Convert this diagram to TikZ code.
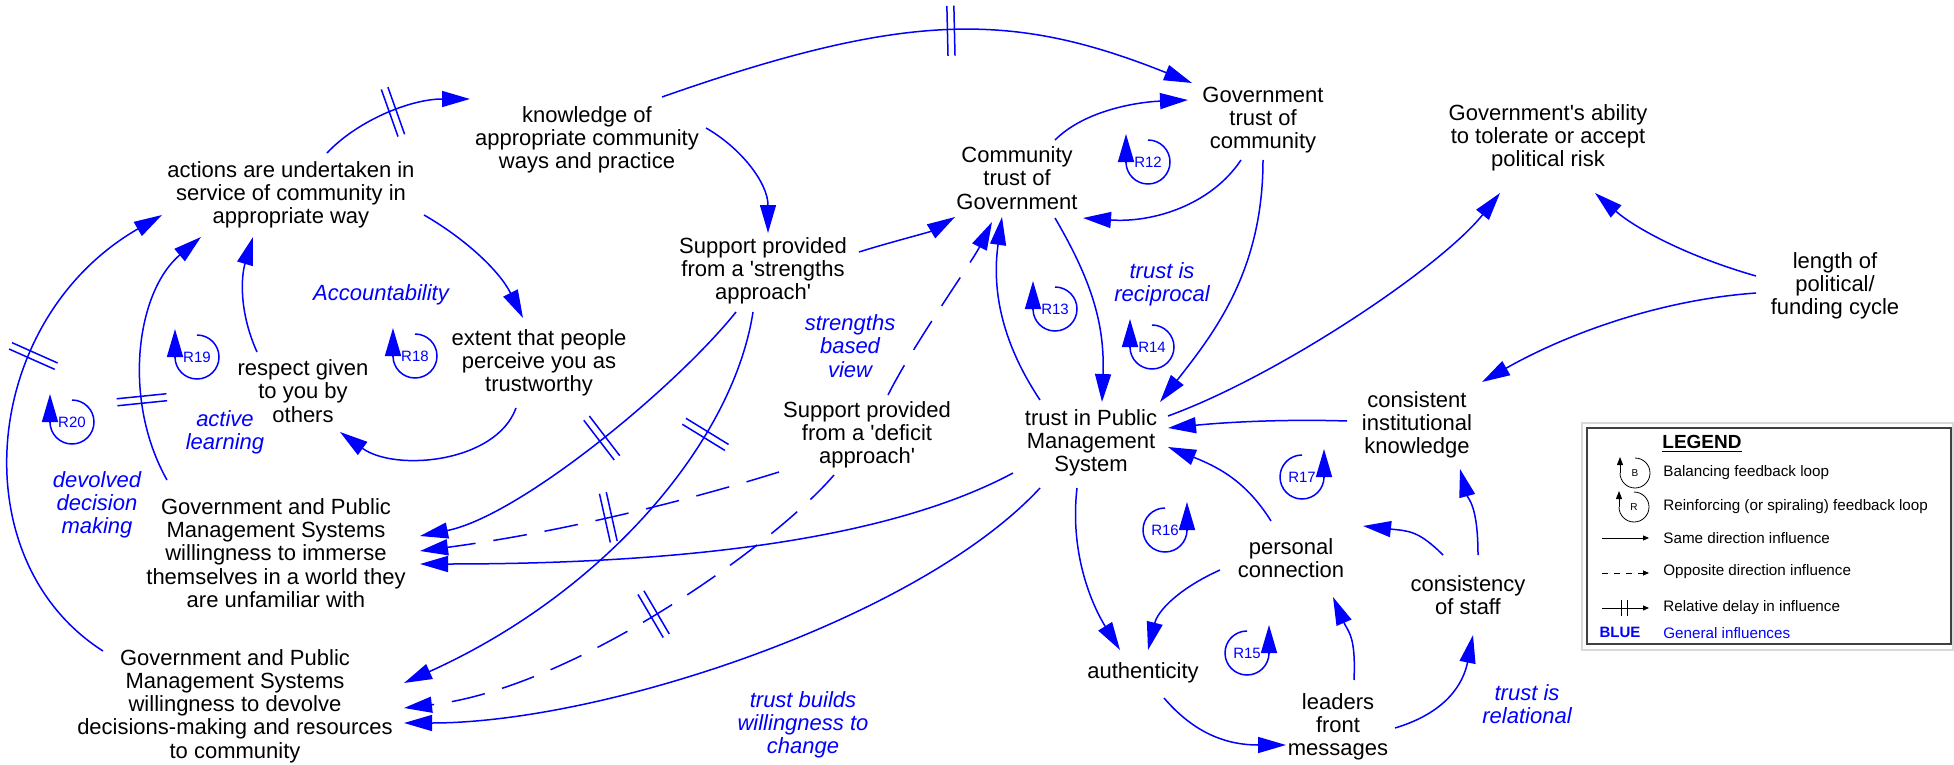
\documentclass[tikz,border=0pt]{standalone}
\usepackage{fontspec}
\setmainfont{Liberation Sans}[Ligatures=TeXOff]
\usetikzlibrary{arrows.meta,decorations.markings}
\begin{document}
\begin{tikzpicture}[x=0.5pt,y=-0.5pt,
  arr/.style={draw=blue,line width=0.75pt,-{Triangle[length=14pt,width=8pt]}},
  dsh/.style={dash pattern=on 17pt off 9pt},
  dly/.style={postaction={decorate,decoration={markings,mark=at position #1 with {\draw[solid,-,line width=0.75pt,blue] (-3.5,-25) -- (-3.5,25) (3.5,-25) -- (3.5,25);}}}},
  var/.style={align=center,inner sep=0pt,font=\fontsize{11}{11.65}\selectfont},
  note/.style={align=center,inner sep=0pt,text=blue,font=\fontsize{11}{11.65}\selectfont\itshape},
  rlab/.style={inner sep=0pt,text=blue,font=\fontsize{7.5}{8}\selectfont},
  lpc/.style={draw=blue,line width=0.75pt},
  lpa/.style={draw=blue,line width=0.75pt,-{Triangle[length=14pt,width=8pt]}},
  leg/.style={anchor=west,inner sep=0pt,font=\fontsize{7.6}{9}\selectfont},
  legl/.style={draw=black,line width=0.5pt},
]
\useasboundingbox (0,0) rectangle (1954,765);

% variables
\node[var] (actions) at (291,195) {actions are undertaken in\\service of community in\\appropriate way};
\node[var] (knowledge) at (587,140) {knowledge of\\appropriate community\\ways and practice};
\node[var] (strengths) at (763,271) {Support provided\\from a 'strengths\\approach'};
\node[var] (ctog) at (1017,178) {Community\\trust of\\Government};
\node[var] (gtoc) at (1263,120) {Government\\trust of\\community};
\node[var] (ability) at (1548,138) {Government's ability\\to tolerate or accept\\political risk};
\node[var] (length) at (1835,286) {length of\\political/\\funding cycle};
\node[var] (cik) at (1417,425) {consistent\\institutional\\knowledge};
\node[var] (pc) at (1291,558) {personal\\connection};
\node[var] (cos) at (1468,595) {consistency\\of staff};
\node[var] (lfm) at (1338,727) {leaders\\front\\messages};
\node[var] (auth) at (1143,673) {authenticity};
\node[var] (tpms) at (1091,443) {trust in Public\\Management\\System};
\node[var] (deficit) at (867,435) {Support provided\\from a 'deficit\\approach'};
\node[var] (extent) at (539,363) {extent that people\\perceive you as\\trustworthy};
\node[var] (respect) at (303,391) {respect given\\to you by\\others};
\node[var] (immerse) at (276,553) {Government and Public\\Management Systems\\willingness to immerse\\themselves in a world they\\are unfamiliar with};
\node[var] (devolve) at (235,706) {Government and Public\\Management Systems\\willingness to devolve\\decisions-making and resources\\to community};

% italic notes
\node[note] (accnt) at (381,295) {Accountability};
\node[note] (actl) at (225,432) {active\\learning};
\node[note] (devdm) at (97,505) {devolved\\decision\\making};
\node[note] (sbv) at (850,346) {strengths\\based\\view};
\node[note] (tir) at (1162,284) {trust is\\reciprocal};
\node[note] (tbw) at (803,725) {trust builds\\willingness to\\change};
\node[note] (trel) at (1527,704) {trust is\\relational};

% loops
\newcommand{\loopL}[2]{\node[rlab] (#1) at (#2) {#1};
  \draw[lpc] (#1.center) ++(0,-22) arc[start angle=-90,end angle=180,radius=22];
  \draw[lpa] ([shift={(-22,0)}]#1.center) -- ([shift={(-22,-28)}]#1.center);}
\newcommand{\loopR}[2]{\node[rlab] (#1) at (#2) {#1};
  \draw[lpc] (#1.center) ++(0,-22) arc[start angle=-90,end angle=-360,radius=22];
  \draw[lpa] ([shift={(22,0)}]#1.center) -- ([shift={(22,-28)}]#1.center);}
\loopL{R12}{1148,162}
\loopL{R13}{1055,309}
\loopL{R14}{1152,347}
\loopL{R18}{415,356}
\loopL{R19}{197,357}
\loopL{R20}{72,422}
\loopR{R15}{1247,653}
\loopR{R16}{1165,530}
\loopR{R17}{1302,477}

% connectors
\draw[arr,dly=0.5] ([shift={(36,-42)}]actions.center) .. controls +(30,-32) and +(-60,0) .. ([shift={(-117,-41)}]knowledge.center);
\draw[arr,dly=0.545] ([shift={(75,-43)}]knowledge.center) .. controls +(245,-86) and +(-180,-72) .. ([shift={(-71,-37)}]gtoc.center);
\draw[arr] ([shift={(119,-12)}]knowledge.center) .. controls +(35,20) and +(0,-50) .. ([shift={(5,-38)}]strengths.center);
\draw[arr] ([shift={(133,20)}]actions.center) .. controls +(40,23) and +(-24,-48) .. ([shift={(-16,-45)}]extent.center);
\draw[arr] ([shift={(-23,45)}]extent.center) .. controls +(-20,55) and +(55,40) .. ([shift={(37,41)}]respect.center);
\draw[arr] ([shift={(-46,-39)}]respect.center) .. controls +(-18,-40) and +(-12,40) .. ([shift={(-38,42)}]actions.center);
\draw[arr,dly=0.32] ([shift={(-109,-73)}]immerse.center) .. controls +(-45,-80) and +(-65,55) .. ([shift={(-90,42)}]actions.center);
\draw[arr,dly=0.63] ([shift={(-132,-55)}]devolve.center) .. controls +(-143,-91) and +(-182,105) .. ([shift={(-129,20)}]actions.center);
\draw[arr,dly=0.47] ([shift={(-27,41)}]strengths.center) .. controls +(-60,75) and +(100,-20) .. ([shift={(144,-17)}]immerse.center);
\draw[arr,dly=0.25] ([shift={(-10,41)}]strengths.center) .. controls +(-20,130) and +(200,-90) .. ([shift={(169,-23)}]devolve.center);
\draw[arr] ([shift={(96,-19)}]strengths.center) .. controls +(25,-8) and +(-25,15) .. ([shift={(-62,39)}]ctog.center);
\draw[arr,dsh] ([shift={(21,-40)}]deficit.center) .. controls +(25,-50) and +(-20,40) .. ([shift={(-25,44)}]ctog.center);
\draw[arr,dsh,dly=0.46] ([shift={(-33,40)}]deficit.center) .. controls +(-60,70) and +(170,-20) .. ([shift={(169,2)}]devolve.center);
\draw[arr,dsh,dly=0.48] ([shift={(-88,37)}]deficit.center) .. controls +(-80,25) and +(150,-20) .. ([shift={(144,-2)}]immerse.center);
\draw[arr] ([shift={(-78,30)}]tpms.center) .. controls +(-140,75) and +(220,0) .. ([shift={(144,11)}]immerse.center);
\draw[arr] ([shift={(-51,45)}]tpms.center) .. controls +(-120,130) and +(200,0) .. ([shift={(169,17)}]devolve.center);
\draw[arr] ([shift={(-51,-43)}]tpms.center) .. controls +(-40,-60) and +(-10,70) .. ([shift={(-15,39)}]ctog.center);
\draw[arr] ([shift={(38,40)}]ctog.center) .. controls +(35,60) and +(3,-80) .. ([shift={(11,-41)}]tpms.center);
\draw[arr] ([shift={(0,40)}]gtoc.center) .. controls +(0,110) and +(55,-70) .. ([shift={(69,-41)}]tpms.center);
\draw[arr] ([shift={(-22,40)}]gtoc.center) .. controls +(-30,45) and +(70,5) .. ([shift={(66,40)}]ctog.center);
\draw[arr] ([shift={(38,-38)}]ctog.center) .. controls +(30,-30) and +(-50,2) .. ([shift={(-75,-20)}]gtoc.center);
\draw[arr] ([shift={(77,-27)}]tpms.center) .. controls +(110,-40) and +(-60,75) .. ([shift={(-48,55)}]ability.center);
\draw[arr] ([shift={(-79,-10)}]length.center) .. controls +(-70,-20) and +(40,35) .. ([shift={(47,55)}]ability.center);
\draw[arr] ([shift={(-79,7)}]length.center) .. controls +(-110,8) and +(70,-40) .. ([shift={(65,-43)}]cik.center);
\draw[arr] ([shift={(-70,-4)}]cik.center) .. controls +(-60,-2) and +(60,-6) .. ([shift={(77,-15)}]tpms.center);
\draw[arr] ([shift={(-20,-37)}]pc.center) .. controls +(-25,-40) and +(50,20) .. ([shift={(77,4)}]tpms.center);
\draw[arr] ([shift={(-14,45)}]tpms.center) .. controls +(-8,70) and +(-25,-40) .. ([shift={(-23,-23)}]auth.center);
\draw[arr] ([shift={(-71,12)}]pc.center) .. controls +(-40,18) and +(10,-40) .. ([shift={(5,-23)}]auth.center);
\draw[arr] ([shift={(21,25)}]auth.center) .. controls +(30,35) and +(-60,0) .. ([shift={(-52,18)}]lfm.center);
\draw[arr] ([shift={(16,-47)}]lfm.center) .. controls +(2,-45) and +(15,35) .. ([shift={(42,39)}]pc.center);
\draw[arr] ([shift={(57,1)}]lfm.center) .. controls +(50,-15) and +(-10,50) .. ([shift={(5,40)}]cos.center);
\draw[arr] ([shift={(-25,-40)}]cos.center) .. controls +(-25,-25) and +(45,5) .. ([shift={(72,-32)}]pc.center);
\draw[arr] ([shift={(10,-40)}]cos.center) .. controls +(0,-50) and +(8,30) .. ([shift={(43,44)}]cik.center);

% legend
\draw[draw=black!15,line width=0.6pt] (1582,423) rectangle (1953,650);
\draw[draw=black!75,line width=0.6pt] (1587,428) rectangle (1951,644);
\node[inner sep=0pt,font=\fontsize{9.5}{10}\selectfont\bfseries] (legt) at (1702,444) {\underline{LEGEND}};
\node[inner sep=0pt,font=\fontsize{5}{6}\selectfont] (legB) at (1635,473) {B};
\draw[legl,line width=0.4pt] (legB.center) ++(0,-15) arc[start angle=-90,end angle=180,radius=15];
\draw[legl,line width=0.4pt,-{Triangle[length=4pt,width=3pt]}] ([shift={(-15,0)}]legB.center) -- ([shift={(-15,-16)}]legB.center);
\node[inner sep=0pt,font=\fontsize{5}{6}\selectfont] (legR) at (1634,507) {R};
\draw[legl,line width=0.4pt] (legR.center) ++(0,-15) arc[start angle=-90,end angle=180,radius=15];
\draw[legl,line width=0.4pt,-{Triangle[length=4pt,width=3pt]}] ([shift={(-15,0)}]legR.center) -- ([shift={(-15,-16)}]legR.center);
\node[leg] (lt1) at (1663,473) {Balancing feedback loop};
\node[leg] (lt2) at (1663,507) {Reinforcing (or spiraling) feedback loop};
\node[leg] (lt3) at (1663,538) {Same direction influence};
\node[leg] (lt4) at (1663,572) {Opposite direction influence};
\node[leg] (lt5) at (1663,608) {Relative delay in influence};
\node[leg,text=blue] (lt6) at (1663,633) {General influences};
\node[inner sep=0pt,text=blue,font=\fontsize{7.5}{9}\selectfont\bfseries] (lblue) at (1620,632) {BLUE};
\coordinate (s1a) at (1602,538); \coordinate (s1b) at (1649,538);
\coordinate (s2a) at (1602,573); \coordinate (s2b) at (1649,573);
\coordinate (s3a) at (1602,608); \coordinate (s3b) at (1649,608);
\draw[legl,-{Triangle[length=3pt,width=2.5pt]}] (s1a) -- (s1b);
\draw[legl,dash pattern=on 3pt off 3pt,-{Triangle[length=3pt,width=2.5pt]}] (s2a) -- (s2b);
\draw[legl,-{Triangle[length=3pt,width=2.5pt]}] (s3a) -- (s3b);
\draw[legl] ([shift={(19,-8)}]s3a) -- ([shift={(19,8)}]s3a) ([shift={(25,-8)}]s3a) -- ([shift={(25,8)}]s3a);
\end{tikzpicture}
\end{document}
